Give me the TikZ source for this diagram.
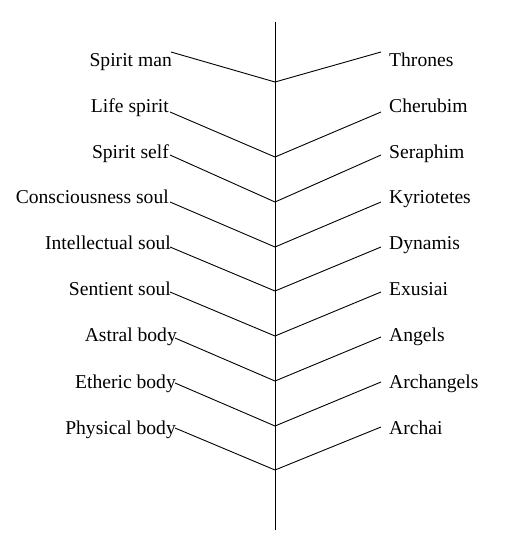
\documentclass[tikz,border=0pt]{standalone}
\usepackage{fontspec}
\setmainfont{Liberation Serif}
\begin{document}
\begin{tikzpicture}[x=1pt,y=-1pt,
  conn/.style={line width=0.9pt,black},
  lbl/.style={inner sep=0pt,font=\fontsize{19.6}{22}\selectfont}]
\useasboundingbox (0,0) rectangle (530,555);
\coordinate (top) at (275,22);
\coordinate (bot) at (275,530);
\draw[conn] (top) -- (bot);
% junctions
\foreach \n/\y in {1/82,2/157,3/202,4/247,5/291,6/336,7/381,8/426,9/470}
  \coordinate (j\n) at (275,\y);
% left labels
\foreach \n/\t/\bx/\by/\lx/\ly in {
  1/Spirit man/172/66/171/52,
  2/Life spirit/169/112/170/112,
  3/Spirit self/169/158/170/155,
  4/Consciousness soul/169/203/170/202,
  5/Intellectual soul/171/249/170/247,
  6/Sentient soul/171/295/170/292,
  7/Astral body/177/341/175/338,
  8/Etheric body/176/388/175/383,
  9/Physical body/176/434/175/428}
{
  \node[lbl,anchor=base east] (L\n) at (\bx,\by) {\t};
  \coordinate (l\n) at (\lx,\ly);
  \draw[conn] (l\n) -- (j\n);
}
% right labels
\foreach \n/\t/\by/\ry in {
  1/Thrones/66/52,
  2/Cherubim/112/112,
  3/Seraphim/158/155,
  4/Kyriotetes/203/202,
  5/Dynamis/249/247,
  6/Exusiai/295/292,
  7/Angels/341/337,
  8/Archangels/388/382,
  9/Archai/434/427}
{
  \node[lbl,anchor=base west] (R\n) at (389,\by) {\t};
  \coordinate (r\n) at (381,\ry);
  \draw[conn] (j\n) -- (r\n);
}
\end{tikzpicture}
\end{document}
